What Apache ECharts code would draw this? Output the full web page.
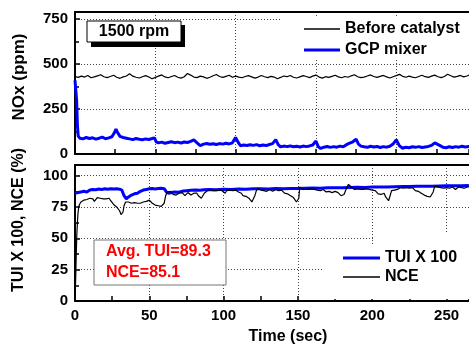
<!DOCTYPE html>
<html><head><meta charset="utf-8">
<script src="https://cdn.jsdelivr.net/npm/echarts@6/dist/echarts.min.js"></script>
<style>html,body{margin:0;padding:0;background:#fff}#c{width:469px;height:352px}</style>
</head><body><div id="c"></div>
<script>
// ---- Data ----
// Top panel: NOx (ppm), "Before catalyst" sampled every 2 s from t = 0
const noxBeforeStep = 2;
const noxBefore = [
430,426,433,428,437,424,429,435,441,430,
425,431,438,427,421,429,434,446,433,427,
423,430,436,428,419,426,433,440,429,424,
431,437,427,422,430,448,439,428,425,433,
429,421,427,435,442,431,426,432,438,427,
433,428,424,431,436,429,422,428,437,430,
425,432,428,419,426,434,430,437,427,423,
429,436,431,425,433,439,428,422,430,426,
432,438,429,424,431,427,435,441,430,425,
428,434,440,431,426,432,437,429,423,430,
436,443,432,427,433,428,424,431,438,430,
426,433,439,430,425,431,444,435,428,432,
437,429,434,441];
// Top panel: NOx after "GCP mixer" [time, ppm]
const gcpMixer = [
[0,410],[0.5,420],[1,300],[1.5,160],[2,100],[3,88],[5,84],[7,92],[9,86],[11,90],[13,83],[15,88],[17,94],[19,85],[21,90],[23,96],
[24.5,118],[25.5,138],[26.5,120],[28,98],[30,92],[32,88],[34,84],[36,80],[38,86],[40,82],[42,79],[44,84],[46,81],[48,86],[49.5,90],
[50.5,68],[52,62],[54,66],[56,60],[58,64],[60,68],[62,63],[64,66],[66,61],[68,67],[70,64],[72,70],[74,78],[75,86],[76.5,58],[78,46],
[80,55],[82,58],[84,54],[86,57],[88,53],[90,58],[92,55],[94,60],[96,56],[98,62],[100,92],[101.5,66],[103,46],[105,50],[107,47],
[109,51],[111,48],[113,52],[115,46],[117,50],[119,47],[121,53],[123,58],[125,80],[126.5,52],[128,40],[130,44],[132,41],[134,45],
[136,40],[138,43],[140,39],[142,44],[144,41],[146,45],[148,50],[150,72],[151.5,40],[153,31],[155,38],[157,42],[159,37],[161,41],
[163,38],[165,44],[167,40],[169,52],[171,60],[173,68],[175,82],[176.5,55],[178,44],[180,40],[182,37],[184,43],[186,39],[188,42],
[190,36],[192,41],[194,38],[196,43],[198,55],[200,79],[202,45],[204,32],[206,38],[208,35],[210,40],[212,37],[214,41],[216,36],
[218,39],[220,42],[222,48],[224,62],[225,69],[227,48],[229,38],[231,35],[233,40],[235,36],[237,41],[239,38],[241,43],[243,39],
[245,42],[247,40]];
// Bottom panel: TUI x 100 [time, %]
const tui = [
[0,86],[2,86.5],[4,87],[6,87.5],[8,87],[10,88.5],[12,89],[14,88.8],[16,89.3],[18,89],[20,89.5],[22,89.2],[24,89.6],[26,89.3],
[28,89.5],[30,89.2],[31.5,88.5],[33,84],[34.5,81.5],[36,83],[38,84.5],[40,85.5],[42,86],[44,87.5],[46,88.5],[48,89],[50,89.5],
[52,89.8],[54,89.4],[56,89.7],[58,90],[60,89.6],[61.5,87],[63,86],[65,86.5],[67,87],[69,86.8],[71,87.2],[73,87.8],[75,88],
[78,88.3],[81,88.6],[84,88.4],[87,88.8],[90,89],[95,88.7],[100,89.2],[105,89],[110,89.4],[115,89.2],[120,89.5],[125,89.6],
[130,89.4],[135,89.7],[140,89.6],[145,89.8],[150,89.7],[155,90],[160,90.1],[165,90],[170,90.3],[175,90.4],[180,90.3],[185,90.6],
[190,90.7],[195,90.6],[200,90.9],[205,91],[210,91],[215,91.2],[220,91.3],[225,91.3],[230,91.5],[235,91.6],[240,91.6],[245,91.8],
[250,91.9],[255,92],[260,92],[265,92.1]];
// Bottom panel: NCE [time, %]
const nce = [
[0,0],[0.4,15],[0.8,35],[1.2,52],[1.6,62],[2,70],[2.5,75],[3,77],[4,79],[5,78],[6,80.5],[7,79],[8,81],[9,80],[10,82],[11,80.5],
[12,81.5],[13,79.5],[14,80],[15,82.5],[16,81],[17,82],[18,83],[19,81.5],[20,80],[21,81.5],[22,83],[23,82],[24,80],[25,78.5],
[26,77],[27,76],[28,75],[29,73.5],[30,72],[31,69],[31.6,67.5],[32.3,71],[33,76],[34,79],[35,80.5],[36,79],[37,77.5],[38,78],
[39,77],[40,78.5],[41,77.5],[42,78],[43,79],[44,78],[45,77.5],[46,79],[47,78.5],[48,79.5],[49,80],[50,80.5],[51,79.5],[52,78],
[53,77],[54,76.5],[55,77.5],[56,76],[57,77],[58,75.5],[59,76.5],[60,78],[61,84],[62,87],[63,86],[64,87.5],[65,86],[66,85],
[67,86],[68,84.5],[69,85.5],[70,86],[71,85],[72,86.5],[73,85.5],[74,84],[75,85],[76,86.5],[77,85.5],[78,84.5],[79,85],[80,86],
[81,85],[82,86],[83,84],[84,83],[85,82],[86,84],[87,86],[88,87],[89,88],[90,89.5],[91,89],[92,87.5],[93,88],[94,87],[95,88],
[96,87],[97,88.5],[98,87.5],[99,88],[100,87],[101,86],[102,88],[103,87.5],[104,88.5],[105,87],[106,88],[107,87.5],[108,88.5],
[109,88],[110,87],[111,85.5],[112,86],[113,84],[114,85],[115,83.5],[116,84.5],[117,82],[118,80.5],[119,79],[120,78.5],[121,84],
[122,88],[123,90],[124,89],[125,88.5],[126,89.5],[127,88],[128,89],[129,87.5],[130,88.5],[131,89],[132,88],[133,87.5],[134,88.5],
[135,89],[136,87.5],[137,88],[138,87],[139,88.5],[140,88],[141,86],[142,87],[143,85.5],[144,86.5],[145,84],[146,85],[147,82.5],
[148,83],[149,79],[150,77.5],[150.6,82],[151.2,91],[152,90.5],[153,89],[154,90],[155,89],[156,90.5],[157,89],[158,88.5],
[159,89.5],[160,88],[161,89],[162,90],[163,88.5],[164,89.5],[165,88],[166,87.5],[167,89],[168,88],[169,87],[170,88.5],[171,87.5],
[172,88],[173,86.5],[174,87],[175,87.5],[176,88],[177,86.5],[178,85],[179,84],[180,83.5],[181,85],[182,88],[183,91],[184,93],
[185,92],[186,91],[187,90.5],[188,89],[189,90],[190,89.5],[191,88.5],[192,89],[193,90],[194,89],[195,88],[196,89.5],[197,88.5],
[198,89],[199,90],[200,88.5],[201,89],[202,88],[203,87],[204,85.5],[205,87],[206,85],[207,84],[208,86],[209,83],[210,81.5],
[211,80],[212,84],[213,88],[214,89],[215,88.5],[216,90],[217,89],[218,89.5],[219,90.5],[220,89.5],[221,90],[222,89],[223,90.5],
[224,91],[225,90],[226,89.5],[227,90.5],[228,89],[229,88],[230,89],[231,87.5],[232,88],[233,86],[234,85],[235,84.5],[236,83],
[237,83.5],[238,82.5],[239,83],[240,84],[241,87],[242,91.5],[243,92],[244,91],[245,91.5],[246,90.5],[247,91],[248,90],[249,91],
[250,90.5],[251,91.5],[252,90],[253,90.5],[254,91],[255,90],[256,89],[257,90.5],[258,91],[259,90],[260,90.5],[261,91],[262,90],
[263,90.5],[264,91],[265,90.5],[266,91]];
// Axis ranges / ticks (the plots are cut off at the right edge of the picture)
const xTop = [0, 245.3, 50];
const xBottom = [0, 265.1, 50];
const noxAxis = [0, 790, 250];
const pctAxis = [0, 108.5, 25];
const seriesNames = ['Before catalyst', 'GCP mixer', 'TUI X 100', 'NCE'];
const yTitles = ['NOx (ppm)', 'TUI X 100, NCE (%)'];
const xTitle = 'Time (sec)';
const rpmLabel = '1500 rpm';
const avgLines = ['Avg. TUI=89.3', 'NCE=85.1'];

// ---- Chart ----
const FONT = '"Liberation Sans", Arial, sans-serif';
const noxBeforeData = noxBefore.map((v, i) => [i * noxBeforeStep, v]);
const chart = echarts.init(document.getElementById('c'), null, {renderer: 'canvas'});
const split = {show: true, showMaxLine: false, lineStyle: {color: '#444', width: 1, type: [1, 2]}};
function xAxis(gi, ax, showLabel) {
  return {type: 'value', gridIndex: gi, min: ax[0], max: ax[1], interval: ax[2],
    axisLine: {show: true, lineStyle: {color: '#000', width: 2}},
    axisTick: {show: true, inside: true, length: 5, lineStyle: {color: '#000', width: 1.5}},
    minorTick: {show: true, splitNumber: 2, length: 5, lineStyle: {color: '#000', width: 1.5}},
    axisLabel: {show: showLabel, color: '#000', fontSize: 15, fontWeight: 'bold', fontFamily: FONT, margin: 7, showMaxLabel: false},
    splitLine: split};
}
function borderAxis(gi, ax) {
  return {type: 'value', gridIndex: gi, position: 'top', min: ax[0], max: ax[1], interval: ax[2],
    axisLine: {show: true, onZero: false, lineStyle: {color: '#000', width: 2}},
    axisTick: {show: false}, axisLabel: {show: false}, splitLine: {show: false}};
}
function yAxis(gi, ax) {
  return {type: 'value', gridIndex: gi, min: ax[0], max: ax[1], interval: ax[2],
    axisLine: {show: true, lineStyle: {color: '#000', width: 2}},
    axisTick: {show: true, inside: true, length: 5, lineStyle: {color: '#000', width: 1.5}},
    minorTick: {show: true, splitNumber: 2, length: 4, lineStyle: {color: '#000', width: 1.5}},
    axisLabel: {color: '#000', fontSize: 15, fontWeight: 'bold', fontFamily: FONT, margin: 7, showMaxLabel: false},
    splitLine: split};
}
const legendText = {color: '#000', fontSize: 16, fontWeight: 'bold', fontFamily: FONT};
const thinIcon = 'path://M0,0h38v1.6h-38z';
const thickIcon = 'path://M0,0h38v3h-38z';
chart.setOption({
  animation: false,
  backgroundColor: '#fff',
  grid: [
    {left: 75, top: 12, height: 142, right: 0, show: false},
    {left: 75, top: 165, height: 136, right: 0, show: false}
  ],
  xAxis: [xAxis(0, xTop, false), xAxis(1, xBottom, true), borderAxis(0, xTop), borderAxis(1, xBottom)],
  yAxis: [yAxis(0, noxAxis), yAxis(1, pctAxis)],
  legend: [
    {data: [{name: seriesNames[0], icon: thinIcon}, {name: seriesNames[1], icon: thickIcon}],
     orient: 'vertical', left: 280, top: 17, itemWidth: 36, itemHeight: 14, itemGap: 5,
     padding: [4, 20, 2, 24], backgroundColor: '#fff', textStyle: legendText, selectedMode: false},
    {data: [{name: seriesNames[2], icon: thickIcon}, {name: seriesNames[3], icon: thinIcon}],
     orient: 'vertical', left: 324, top: 246, itemWidth: 37, itemHeight: 14, itemGap: 3,
     padding: [4, 20, 14, 19], backgroundColor: '#fff', textStyle: legendText, selectedMode: false}
  ],
  series: [
    {name: seriesNames[0], type: 'line', xAxisIndex: 0, yAxisIndex: 0, data: noxBeforeData, symbol: 'none',
     lineStyle: {color: '#000', width: 1.2}, itemStyle: {color: '#000'}, z: 3},
    {name: seriesNames[1], type: 'line', xAxisIndex: 0, yAxisIndex: 0, data: gcpMixer, symbol: 'none',
     lineStyle: {color: '#0000ff', width: 3}, itemStyle: {color: '#0000ff'}, z: 3},
    {name: seriesNames[2], type: 'line', xAxisIndex: 1, yAxisIndex: 1, data: tui, symbol: 'none',
     lineStyle: {color: '#0000ff', width: 3}, itemStyle: {color: '#0000ff'}, z: 2},
    {name: seriesNames[3], type: 'line', xAxisIndex: 1, yAxisIndex: 1, data: nce, symbol: 'none',
     lineStyle: {color: '#000', width: 1.2}, itemStyle: {color: '#000'}, z: 3}
  ],
  graphic: [
    {type: 'rect', z: 100, shape: {x: 374, y: 234, width: 100, height: 14}, style: {fill: '#fff'}},
    {type: 'rect', z: 100, shape: {x: 91, y: 25, width: 94, height: 22}, style: {fill: '#000'}},
    {type: 'rect', z: 101, shape: {x: 87, y: 21, width: 94, height: 21}, style: {fill: '#fff', stroke: '#000', lineWidth: 1}},
    {type: 'text', z: 102, x: 134, y: 32, style: {text: rpmLabel, fill: '#000', font: 'bold 16px ' + FONT, textAlign: 'center', textVerticalAlign: 'middle'}},
    {type: 'rect', z: 100, shape: {x: 94, y: 240, width: 132, height: 45}, style: {fill: '#fff', stroke: '#777', lineWidth: 1}},
    {type: 'text', z: 101, x: 106, y: 252, style: {text: avgLines[0], fill: '#ff0000', font: 'bold 16px ' + FONT, textAlign: 'left', textVerticalAlign: 'middle'}},
    {type: 'text', z: 101, x: 106, y: 273, style: {text: avgLines[1], fill: '#ff0000', font: 'bold 16px ' + FONT, textAlign: 'left', textVerticalAlign: 'middle'}},
    {type: 'text', z: 101, x: 19, y: 77, rotation: Math.PI / 2, style: {text: yTitles[0], fill: '#000', font: 'bold 17px ' + FONT, textAlign: 'center', textVerticalAlign: 'middle'}},
    {type: 'text', z: 101, x: 19, y: 220, rotation: Math.PI / 2, style: {text: yTitles[1], fill: '#000', font: 'bold 16px ' + FONT, textAlign: 'center', textVerticalAlign: 'middle'}},
    {type: 'text', z: 101, x: 288, y: 337, style: {text: xTitle, fill: '#000', font: 'bold 16px ' + FONT, textAlign: 'center', textVerticalAlign: 'middle'}}
  ]
});
</script></body></html>
